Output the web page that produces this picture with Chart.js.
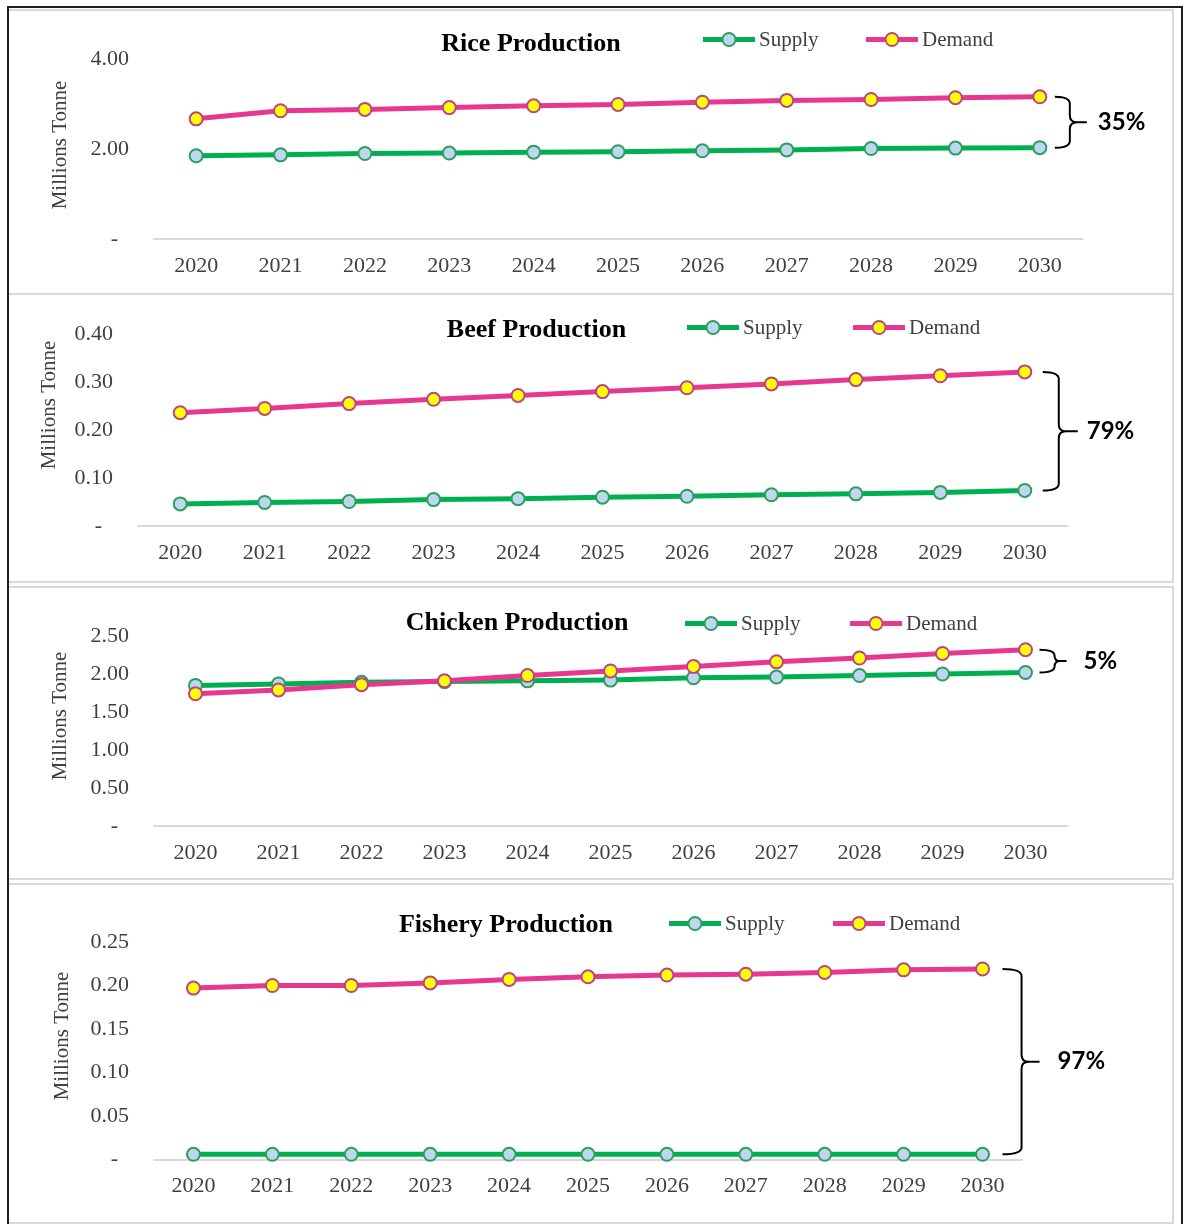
<!DOCTYPE html>
<html>
<head>
<meta charset="utf-8">
<title>Supply and Demand Projections 2020-2030</title>
<script src="https://cdn.jsdelivr.net/npm/chart.js@4.4.1/dist/chart.umd.min.js"></script>
<style>
  html, body { margin: 0; padding: 0; background: #ffffff; }
  body { width: 1186px; height: 1224px; position: relative; overflow: hidden; }
  #frame { position: absolute; left: 7px; top: 6px; width: 1176px; height: 1260px;
           border: 2px solid #1e1e1e; box-sizing: border-box; z-index: 5; }
  .panel { position: absolute; left: 7px; width: 1167px; border: 2px solid #dadada;
           box-sizing: border-box; z-index: 1; }
  canvas { position: absolute; left: 0; z-index: 2; }
</style>
</head>
<body>
<div id="frame"></div>

<script>
// ---- data (million tonnes) ----
const years = ['2020', '2021', '2022', '2023', '2024', '2025', '2026', '2027', '2028', '2029', '2030'];

const riceSupply    = [1.85, 1.87, 1.90, 1.91, 1.93, 1.94, 1.96, 1.98, 2.01, 2.02, 2.03];
const riceDemand    = [2.67, 2.85, 2.88, 2.92, 2.96, 2.99, 3.04, 3.08, 3.10, 3.14, 3.16];

const beefSupply    = [0.046, 0.049, 0.051, 0.055, 0.057, 0.060, 0.062, 0.065, 0.067, 0.070, 0.074];
const beefDemand    = [0.236, 0.245, 0.255, 0.264, 0.272, 0.280, 0.288, 0.296, 0.305, 0.313, 0.321];

const chickenSupply = [1.85, 1.87, 1.89, 1.90, 1.91, 1.92, 1.95, 1.96, 1.98, 2.00, 2.02];
const chickenDemand = [1.74, 1.79, 1.86, 1.91, 1.98, 2.04, 2.10, 2.16, 2.21, 2.27, 2.32];

const fisherySupply = [0.006, 0.006, 0.006, 0.006, 0.006, 0.006, 0.006, 0.006, 0.006, 0.006, 0.006];
const fisheryDemand = [0.197, 0.200, 0.200, 0.203, 0.207, 0.210, 0.212, 0.213, 0.215, 0.218, 0.219];

const titles    = ['Rice Production', 'Beef Production', 'Chicken Production', 'Fishery Production'];
const gapLabels = ['35%', '79%', '5%', '97%'];
const yMaxima   = [4, 0.4, 2.5, 0.25];
const ySteps    = [2, 0.1, 0.5, 0.05];
const seriesNames = ['Supply', 'Demand'];
const axisTitle = 'Millions Tonne';

// ---- styling ----
const SERIF = '"Liberation Serif", "Times New Roman", serif';
const SANS  = 'Lato, "Open Sans", sans-serif';
const TEXT_GREY = '#404040';
const MARKER_R = 6.5;
const style = {
  supply: { line: '#00b050', fill: '#bdd7ee', edge: '#2f9d5e' },
  demand: { line: '#e8378f', fill: '#ffff00', edge: '#b8458a' }
};

// ---- panel layout (page pixels) ----
const panels = [
  { supply: riceSupply, demand: riceDemand,
    box: { top: 9, height: 286 }, area: { left: 154, right: 1082, top: 59, bottom: 239 },
    titleX: 531, titleY: 44, legendY: 39.5, supplyX: 703, demandX: 866,
    axisTitleAt: { x: 60, y: 145 }, brace: { left: 15, spine: 30, tip: 47, text: 58 } },
  { supply: beefSupply, demand: beefDemand,
    box: { top: 293, height: 290 }, area: { left: 138, right: 1067, top: 334, bottom: 526 },
    titleX: 536.5, titleY: 330.5, legendY: 327.5, supplyX: 687, demandX: 853,
    axisTitleAt: { x: 49, y: 405 }, brace: { left: 18, spine: 34, tip: 53, text: 62 } },
  { supply: chickenSupply, demand: chickenDemand,
    box: { top: 586, height: 294 }, area: { left: 154, right: 1067, top: 636, bottom: 826 },
    titleX: 517, titleY: 623, legendY: 623.5, supplyX: 685, demandX: 850,
    axisTitleAt: { x: 60, y: 716 }, brace: { left: 14, spine: 29, tip: 41, text: 58 } },
  { supply: fisherySupply, demand: fisheryDemand,
    box: { top: 883, height: 341 }, area: { left: 154, right: 1022, top: 942, bottom: 1159.5 },
    titleX: 506, titleY: 925, legendY: 923.5, supplyX: 669, demandX: 833,
    axisTitleAt: { x: 62, y: 1036 }, brace: { left: 20, spine: 39, tip: 57, text: 75 } }
];

const PAGE_W = 1186;

// Title, legend, rotated axis title and the bracketed gap label for each panel.
const panelDecor = {
  id: 'panelDecor',
  afterDraw(chart, args, o) {
    const ctx = chart.ctx;
    const p = o.panel;
    const dy = p.box.top;
    ctx.save();

    // chart title
    ctx.font = 'bold 26px ' + SERIF;
    ctx.fillStyle = '#000000';
    ctx.textAlign = 'center';
    ctx.textBaseline = 'middle';
    ctx.fillText(o.title, p.titleX, p.titleY - dy);

    // legend
    const ly = p.legendY - dy;
    const entries = [
      { x: p.supplyX, s: style.supply, name: seriesNames[0] },
      { x: p.demandX, s: style.demand, name: seriesNames[1] }
    ];
    entries.forEach(e => {
      ctx.strokeStyle = e.s.line;
      ctx.lineWidth = 5;
      ctx.lineCap = 'butt';
      ctx.beginPath();
      ctx.moveTo(e.x, ly);
      ctx.lineTo(e.x + 52, ly);
      ctx.stroke();
      ctx.beginPath();
      ctx.arc(e.x + 26, ly, MARKER_R, 0, Math.PI * 2);
      ctx.fillStyle = e.s.fill;
      ctx.fill();
      ctx.lineWidth = 2;
      ctx.strokeStyle = e.s.edge;
      ctx.stroke();
      ctx.font = '21px ' + SERIF;
      ctx.fillStyle = TEXT_GREY;
      ctx.textAlign = 'left';
      ctx.textBaseline = 'middle';
      ctx.fillText(e.name, e.x + 56, ly + 1);
    });

    // rotated y-axis title
    ctx.save();
    ctx.translate(p.axisTitleAt.x, p.axisTitleAt.y - dy);
    ctx.rotate(-Math.PI / 2);
    ctx.font = '21px ' + SERIF;
    ctx.fillStyle = TEXT_GREY;
    ctx.textAlign = 'center';
    ctx.textBaseline = 'middle';
    ctx.fillText(axisTitle, 0, 0);
    ctx.restore();

    // curly bracket spanning the 2030 supply/demand gap
    const xs = chart.scales.x, ys = chart.scales.y;
    const last = years.length - 1;
    const xLast = xs.getPixelForValue(last);
    const yTop = ys.getPixelForValue(p.demand[last]);
    const yBot = ys.getPixelForValue(p.supply[last]);
    const yMid = (yTop + yBot) / 2;
    const xl = xLast + p.brace.left, xs2 = xLast + p.brace.spine, xt = xLast + p.brace.tip;
    const r = Math.min(7, (yBot - yTop) / 4);
    ctx.strokeStyle = '#000000';
    ctx.lineWidth = 2;
    ctx.beginPath();
    ctx.moveTo(xl, yTop);
    ctx.quadraticCurveTo(xs2, yTop, xs2, yTop + r);
    ctx.lineTo(xs2, yMid - r);
    ctx.quadraticCurveTo(xs2, yMid, xs2 + r, yMid);
    ctx.lineTo(xt, yMid);
    ctx.moveTo(xs2 + r, yMid);
    ctx.quadraticCurveTo(xs2, yMid, xs2, yMid + r);
    ctx.lineTo(xs2, yBot - r);
    ctx.quadraticCurveTo(xs2, yBot, xl, yBot);
    ctx.stroke();

    ctx.font = 'bold 24px ' + SANS;
    ctx.fillStyle = '#000000';
    ctx.textAlign = 'left';
    ctx.textBaseline = 'middle';
    ctx.fillText(o.gap, xLast + p.brace.text, yMid);

    ctx.restore();
  }
};

panels.forEach((p, i) => {
  const box = document.createElement('div');
  box.className = 'panel';
  box.style.top = p.box.top + 'px';
  box.style.height = p.box.height + 'px';
  document.body.appendChild(box);

  const cv = document.createElement('canvas');
  cv.width = PAGE_W;
  cv.height = p.box.height;
  cv.style.top = p.box.top + 'px';
  cv.style.width = PAGE_W + 'px';
  cv.style.height = p.box.height + 'px';
  document.body.appendChild(cv);

  const xHeight = p.box.top + p.box.height - p.area.bottom;

  new Chart(cv, {
    type: 'line',
    data: {
      labels: years,
      datasets: [
        { label: seriesNames[0], data: p.supply, order: 1,
          borderColor: style.supply.line, borderWidth: 5, tension: 0,
          pointRadius: MARKER_R, pointBorderWidth: 2,
          pointBackgroundColor: style.supply.fill, pointBorderColor: style.supply.edge,
          clip: false },
        { label: seriesNames[1], data: p.demand, order: 0,
          borderColor: style.demand.line, borderWidth: 5, tension: 0,
          pointRadius: MARKER_R, pointBorderWidth: 2,
          pointBackgroundColor: style.demand.fill, pointBorderColor: style.demand.edge,
          clip: false }
      ]
    },
    options: {
      responsive: false,
      animation: false,
      devicePixelRatio: 1,
      events: [],
      layout: { padding: { left: 0, right: PAGE_W - p.area.right, top: p.area.top - p.box.top, bottom: 0 } },
      plugins: {
        legend: { display: false },
        title: { display: false },
        tooltip: { enabled: false },
        panelDecor: { panel: p, title: titles[i], gap: gapLabels[i] }
      },
      scales: {
        x: {
          type: 'category',
          offset: true,
          grid: { display: false, drawTicks: false },
          border: { display: true, color: '#d9d9d9', width: 2 },
          ticks: { font: { family: SERIF, size: 22 }, color: TEXT_GREY, padding: 14,
                   maxRotation: 0, autoSkip: false },
          afterFit(s) { s.height = xHeight; }
        },
        y: {
          min: 0,
          max: yMaxima[i],
          grid: { display: false, drawTicks: false },
          border: { display: false },
          ticks: {
            stepSize: ySteps[i],
            font: { family: SERIF, size: 22 },
            color: TEXT_GREY,
            padding: 25,
            callback: v => (Math.abs(v) < 1e-9 ? '-  ' : Number(v).toFixed(2))
          },
          afterFit(s) { s.width = p.area.left; }
        }
      }
    },
    plugins: [panelDecor]
  });
});
</script>
</body>
</html>
